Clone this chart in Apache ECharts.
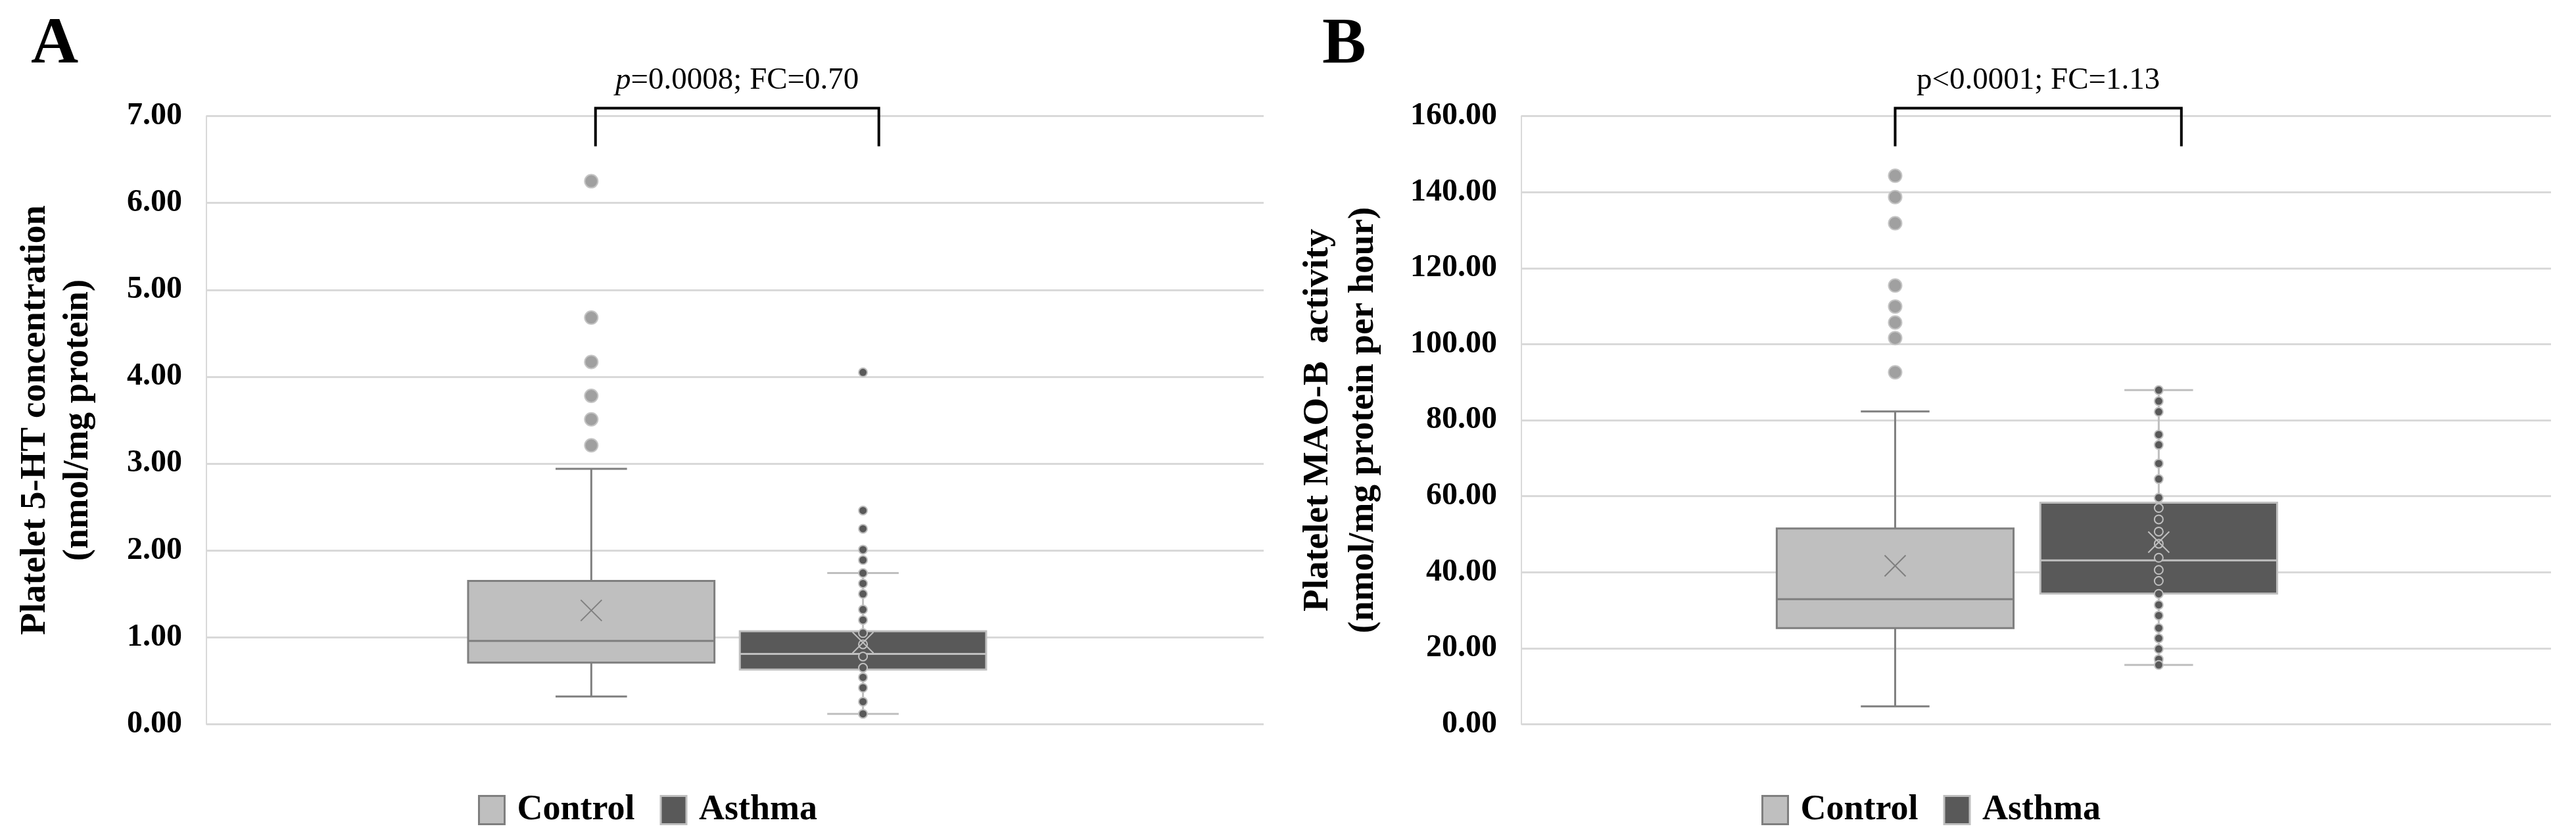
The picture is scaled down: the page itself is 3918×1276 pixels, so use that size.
<!DOCTYPE html>
<html>
<head>
<meta charset="utf-8">
<script src="https://cdn.jsdelivr.net/npm/echarts@6/dist/echarts.min.js"></script>
<style>
html,body{margin:0;padding:0;background:#ffffff;}
#chart{width:3918px;height:1276px;}
</style>
</head>
<body>
<div id="chart"></div>
<script>
// ---------------- DATA ----------------
const groups = ['Control', 'Asthma'];

// Panel A : Platelet 5-HT concentration (nmol/mg protein)
const yTicksA = [0, 1, 2, 3, 4, 5, 6, 7];
// [lower whisker, Q1, median, Q3, upper whisker]
const controlBoxA = [0.32, 0.71, 0.96, 1.65, 2.94];
const controlMeanA = 1.31;
const controlPointsA = [6.25, 4.68, 4.17, 3.78, 3.51, 3.21];
const asthmaBoxA = [0.12, 0.63, 0.81, 1.07, 1.74];
const asthmaMeanA = 0.94;
const asthmaPointsA = [4.05, 2.46, 2.25, 2.01, 1.89, 1.74, 1.62, 1.50, 1.32, 1.20, 1.05, 0.92, 0.78, 0.65, 0.54, 0.42, 0.26, 0.12];
const statLabelA = { p: 'p', rest: '=0.0008; FC=0.70', italic: true };
const yTitleA = 'Platelet 5-HT concentration\n(nmol/mg protein)';

// Panel B : Platelet MAO-B activity (nmol/mg protein per hour)
const yTicksB = [0, 20, 40, 60, 80, 100, 120, 140, 160];
const controlBoxB = [4.7, 25.3, 32.9, 51.5, 82.3];
const controlMeanB = 41.7;
const controlPointsB = [144.3, 138.7, 131.8, 115.4, 109.9, 105.7, 101.6, 92.6];
const asthmaBoxB = [15.6, 34.4, 43.1, 58.3, 87.9];
const asthmaMeanB = 47.9;
const asthmaPointsB = [87.9, 85.0, 82.2, 76.2, 73.5, 68.6, 64.5, 59.6, 56.9, 53.9, 50.7, 47.5, 43.8, 40.6, 37.7, 34.3, 31.4, 28.6, 25.3, 22.6, 19.8, 17.1, 15.6];
const statLabelB = { p: 'p', rest: '<0.0001; FC=1.13', italic: false };
const yTitleB = 'Platelet MAO-B  activity\n(nmol/mg protein per hour)';

// ---------------- STYLE ----------------
const SERIF = '"Liberation Serif", "Times New Roman", serif';
const styles = {
  Control: { fill: '#bfbfbf', border: '#7f7f7f', line: '#7f7f7f', ptFill: '#a0a0a0', ptStroke: '#c4c4c4', r: 10 },
  Asthma:  { fill: '#595959', border: '#bfbfbf', line: '#bfbfbf', ptFill: '#595959', ptStroke: '#bfbfbf', r: 6.5 }
};
const panels = [
  { ticks: yTicksA, ctrl: [controlBoxA, controlMeanA, controlPointsA], asth: [asthmaBoxA, asthmaMeanA, asthmaPointsA],
    stat: statLabelA, title: yTitleA, letter: 'A',
    grid: { left: 314, top: 176.5, width: 1608, height: 925 }, nameGap: 163, lineHeight: 65,
    offsets: { Control: -0.136, Asthma: 0.121 }, boxW: 0.233, bracket: [-0.132, 0.136],
    legendLeft: 722, letterLeft: 42 },
  { ticks: yTicksB, ctrl: [controlBoxB, controlMeanB, controlPointsB], asth: [asthmaBoxB, asthmaMeanB, asthmaPointsB],
    stat: statLabelB, title: yTitleB, letter: 'B',
    grid: { left: 2314, top: 176.5, width: 1566, height: 925 }, nameGap: 206, lineHeight: 69,
    offsets: { Control: -0.137, Asthma: 0.119 }, boxW: 0.23, bracket: [-0.137, 0.141],
    legendLeft: 2674, letterLeft: 2006 }
];

// ---------------- RENDERERS ----------------
function boxRenderer(offset, widthFrac, st) {
  return function (params, api) {
    const band = api.size([1, 0])[0];
    const c = api.coord([api.value(0), api.value(1)]);
    const cx = c[0] + offset * band;
    const hw = widthFrac * band / 2;
    const capHw = hw * 0.29;
    const y = i => api.coord([api.value(0), api.value(i)])[1];
    const yMin = y(1), yQ1 = y(2), yMed = y(3), yQ3 = y(4), yMax = y(5);
    const ls = { stroke: st.line, lineWidth: 3 };
    return {
      type: 'group',
      children: [
        { type: 'line', shape: { x1: cx, y1: yMax, x2: cx, y2: yQ3 }, style: ls },
        { type: 'line', shape: { x1: cx, y1: yQ1, x2: cx, y2: yMin }, style: ls },
        { type: 'line', shape: { x1: cx - capHw, y1: yMax, x2: cx + capHw, y2: yMax }, style: ls },
        { type: 'line', shape: { x1: cx - capHw, y1: yMin, x2: cx + capHw, y2: yMin }, style: ls },
        { type: 'rect', shape: { x: cx - hw, y: yQ3, width: 2 * hw, height: yQ1 - yQ3 },
          style: { fill: st.fill, stroke: st.border, lineWidth: 3 } },
        { type: 'line', shape: { x1: cx - hw, y1: yMed, x2: cx + hw, y2: yMed }, style: { stroke: st.line, lineWidth: 3 } }
      ]
    };
  };
}
function pointRenderer(offset, st) {
  return function (params, api) {
    const band = api.size([1, 0])[0];
    const c = api.coord([api.value(0), api.value(1)]);
    return { type: 'circle', shape: { cx: c[0] + offset * band, cy: c[1], r: st.r },
      style: { fill: st.ptFill, stroke: st.ptStroke, lineWidth: 2 } };
  };
}
function meanRenderer(offset, st) {
  return function (params, api) {
    const band = api.size([1, 0])[0];
    const c = api.coord([api.value(0), api.value(1)]);
    const cx = c[0] + offset * band, cy = c[1], h = 16;
    const ls = { stroke: st.line, lineWidth: 2 };
    return { type: 'group', children: [
      { type: 'line', shape: { x1: cx - h, y1: cy - h, x2: cx + h, y2: cy + h }, style: ls },
      { type: 'line', shape: { x1: cx - h, y1: cy + h, x2: cx + h, y2: cy - h }, style: ls }
    ]};
  };
}
function statRenderer(p) {
  return function (params, api) {
    const band = api.size([1, 0])[0];
    const c = api.coord([api.value(0), api.value(1)]);
    const xl = c[0] + p.bracket[0] * band, xr = c[0] + p.bracket[1] * band;
    const yTop = c[1] - 12, yLeg = c[1] + 46;
    const txt = p.stat.italic ? '{i|' + p.stat.p + '}' + p.stat.rest : p.stat.p + p.stat.rest;
    return { type: 'group', children: [
      { type: 'polyline', shape: { points: [[xl, yLeg], [xl, yTop], [xr, yTop], [xr, yLeg]] },
        style: { stroke: '#000', lineWidth: 4, fill: null } },
      { type: 'text', x: (xl + xr) / 2, y: yTop - 18,
        style: { text: txt, fill: '#000', font: '47px ' + SERIF, align: 'center', verticalAlign: 'bottom',
          rich: { i: { fontStyle: 'italic', fontSize: 47, fontFamily: SERIF, fill: '#000' } } } }
    ]};
  };
}

// ---------------- OPTION ----------------
const option = { animation: false, backgroundColor: '#ffffff',
  title: [], grid: [], xAxis: [], yAxis: [], series: [], legend: [] };

panels.forEach((p, i) => {
  const t = p.ticks;
  option.grid.push(Object.assign({ containLabel: false }, p.grid));
  option.xAxis.push({ type: 'category', gridIndex: i, data: [''], boundaryGap: true,
    axisLine: { show: false }, axisTick: { show: false }, axisLabel: { show: false }, splitLine: { show: false } });
  option.yAxis.push({ type: 'value', gridIndex: i, min: t[0], max: t[t.length - 1], interval: t[1] - t[0],
    name: p.title, nameLocation: 'middle', nameRotate: 90, nameGap: p.nameGap,
    nameTextStyle: { fontFamily: SERIF, fontWeight: 'bold', fontSize: 55, lineHeight: p.lineHeight, color: '#000', align: 'center' },
    axisLine: { show: true, lineStyle: { color: '#d9d9d9', width: 2 } },
    axisTick: { show: false },
    axisLabel: { formatter: v => v.toFixed(2), fontFamily: SERIF, fontWeight: 'bold', fontSize: 48, color: '#000', margin: 37 },
    splitLine: { show: true, lineStyle: { color: '#d9d9d9', width: 3 } } });
  option.title.push({ text: p.letter, left: p.letterLeft, top: 14,
    textStyle: { fontFamily: SERIF, fontWeight: 'bold', fontSize: 100, color: '#000' } });

  [['Control', p.ctrl], ['Asthma', p.asth]].forEach(([g, d]) => {
    const st = styles[g], off = p.offsets[g];
    option.series.push({ type: 'custom', name: g, xAxisIndex: i, yAxisIndex: i, clip: false, z: 2,
      renderItem: boxRenderer(off, p.boxW, st), encode: { x: 0, y: [1, 2, 3, 4, 5] },
      data: [[0].concat(d[0])] });
    option.series.push({ type: 'custom', name: g, xAxisIndex: i, yAxisIndex: i, clip: false, z: 3,
      renderItem: pointRenderer(off, st), encode: { x: 0, y: 1 },
      data: d[2].map(v => [0, v]) });
    option.series.push({ type: 'custom', name: g, xAxisIndex: i, yAxisIndex: i, clip: false, z: 4,
      renderItem: meanRenderer(off, st), encode: { x: 0, y: 1 },
      data: [[0, d[1]]] });
  });
  option.series.push({ type: 'custom', name: 'stat' + i, xAxisIndex: i, yAxisIndex: i, clip: false, z: 5,
    renderItem: statRenderer(p), encode: { x: 0, y: 1 }, data: [[0, t[t.length - 1]]] });

  option.legend.push({ left: p.legendLeft, top: 1200, orient: 'horizontal', itemWidth: 39, itemHeight: 43, itemGap: 38,
    selectedMode: false,
    textStyle: { fontFamily: SERIF, fontWeight: 'bold', fontSize: 54, color: '#000', padding: [0, 0, 0, 14] },
    data: groups.map(g => ({ name: g, icon: 'rect',
      itemStyle: { color: styles[g].fill, borderColor: styles[g].border, borderWidth: 3 } })) });
});

const chart = echarts.init(document.getElementById('chart'), null, { renderer: 'canvas' });
chart.setOption(option);
</script>
</body>
</html>
